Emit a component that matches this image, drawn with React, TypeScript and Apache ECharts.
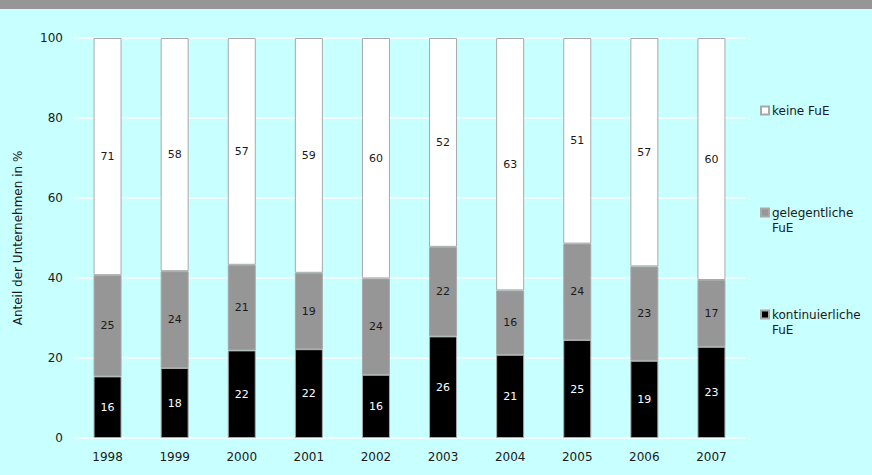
import React, { useEffect, useRef } from "react";
import * as echarts from "echarts";

const years = ["1998", "1999", "2000", "2001", "2002", "2003", "2004", "2005", "2006", "2007"];
const seriesNames = ["kontinuierliche FuE", "gelegentliche FuE", "keine FuE"];

// segment heights as drawn (percent)
const kontinuierlich = [15.4, 17.5, 21.9, 22.2, 15.8, 25.4, 20.8, 24.5, 19.3, 22.8];
const gelegentlich = [25.3, 24.2, 21.4, 19.1, 24.1, 22.4, 16.1, 24.1, 23.6, 16.7];
const keine = [59.3, 58.3, 56.7, 58.7, 60.1, 52.2, 63.1, 51.4, 57.1, 60.5];

// printed data labels
const kontinuierlichLabels = [16, 18, 22, 22, 16, 26, 21, 25, 19, 23];
const gelegentlichLabels = [25, 24, 21, 19, 24, 22, 16, 24, 23, 17];
const keineLabels = [71, 58, 57, 59, 60, 52, 63, 51, 57, 60];

const yTicks = [0, 20, 40, 60, 80, 100];

export default function App() {
  const ref = useRef<HTMLDivElement>(null);
  useEffect(() => {
    document.body.style.margin = "0";
    const chart = echarts.init(ref.current!, null, { renderer: "svg" });
    const font = "DejaVu Sans";
    const mkSeries = (name: string, data: number[], labels: number[], color: string, labelColor: string) => ({
      name,
      type: "bar",
      stack: "total",
      data,
      barWidth: 28,
      itemStyle: { color, borderColor: "#a8a8a8", borderWidth: 1 },
      label: {
        show: true,
        position: "inside",
        color: labelColor,
        fontFamily: font,
        fontSize: 11,
        formatter: (p: any) => String(labels[p.dataIndex]),
      },
    });
    chart.setOption({
      animation: false,
      backgroundColor: "#c8ffff",
      textStyle: { fontFamily: font },
      graphic: [
        { type: "rect", left: 0, top: 0, shape: { width: 872, height: 9 }, style: { fill: "#969696" } },
      ],
      grid: { left: 74, right: 127, top: 38, bottom: 37 },
      legend: {
        orient: "vertical",
        left: 760,
        top: 88,
        padding: 0,
        itemWidth: 8,
        itemHeight: 8,
        itemGap: 57,
        icon: "rect",
        data: ["keine FuE", "gelegentliche FuE", "kontinuierliche FuE"],
        selectedMode: false,
        textStyle: { fontFamily: font, fontSize: 12, color: "#1a1a1a", lineHeight: 15, padding: [0, 0, 0, -2] },
        formatter: (name: string) =>
          name === "keine FuE" ? " \nkeine FuE\n " : " \n" + name.replace(" ", "\n"),
      },
      xAxis: {
        type: "category",
        data: years,
        axisLine: { show: false },
        axisTick: { show: false },
        axisLabel: { color: "#1a1a1a", fontFamily: font, fontSize: 12, margin: 13 },
      },
      yAxis: {
        type: "value",
        min: 0,
        max: 100,
        interval: 20,
        name: "Anteil der Unternehmen in %",
        nameLocation: "middle",
        nameGap: 50,
        nameTextStyle: { color: "#1a1a1a", fontFamily: font, fontSize: 12 },
        axisLine: { show: false },
        axisTick: { show: false },
        axisLabel: {
          color: "#1a1a1a",
          fontFamily: font,
          fontSize: 12,
          margin: 11,
          formatter: (v: number) => (yTicks.includes(v) ? String(v) : ""),
        },
        splitLine: { lineStyle: { color: "#ffffff", width: 1.5 } },
      },
      series: [
        mkSeries(seriesNames[0], kontinuierlich, kontinuierlichLabels, "#000000", "#ffffff"),
        mkSeries(seriesNames[1], gelegentlich, gelegentlichLabels, "#969696", "#1a1a1a"),
        mkSeries(seriesNames[2], keine, keineLabels, "#ffffff", "#1a1a1a"),
      ],
    });
    return () => chart.dispose();
  }, []);
  return <div ref={ref} style={{ width: 872, height: 475 }} />;
}
